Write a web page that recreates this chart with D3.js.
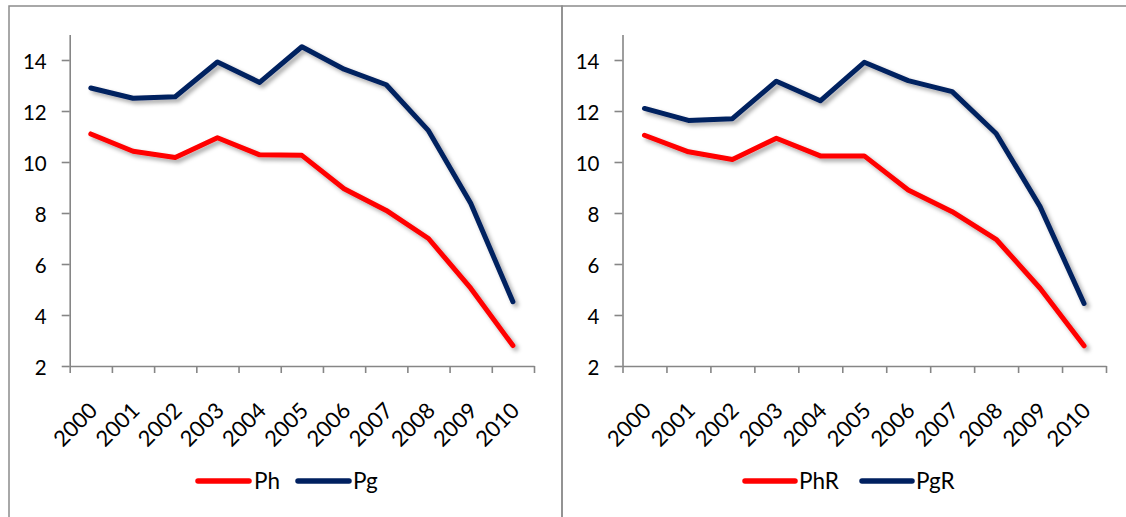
<!DOCTYPE html>
<html>
<head>
<meta charset="utf-8">
<script src="https://cdn.jsdelivr.net/npm/d3@7/dist/d3.min.js"></script>
<style>
  html, body { margin: 0; padding: 0; background: #fff; }
  svg { display: block; }
  text { font-family: Lato, "Open Sans", sans-serif; fill: #000; }
</style>
</head>
<body>
<svg id="chart" width="1126" height="517"></svg>
<script>
// ---- data ----
const years = ["2000","2001","2002","2003","2004","2005","2006","2007","2008","2009","2010"];
const phValues  = [11.1, 10.42, 10.18, 10.95, 10.28, 10.26, 8.95, 8.1, 7.0, 5.05, 2.8];
const pgValues  = [12.9, 12.5, 12.56, 13.92, 13.12, 14.52, 13.64, 13.03, 11.23, 8.38, 4.52];
const phRValues = [11.05, 10.4, 10.1, 10.93, 10.24, 10.24, 8.9, 8.05, 6.97, 5.05, 2.79];
const pgRValues = [12.1, 11.63, 11.7, 13.17, 12.4, 13.91, 13.19, 12.76, 11.12, 8.25, 4.45];
const yTicks = [2, 4, 6, 8, 10, 12, 14];
const yDomain = [2, 15];
const seriesNamesLeft = ["Ph", "Pg"];
const seriesNamesRight = ["PhR", "PgR"];
const colors = ["#FF0000", "#002060"];

// ---- layout ----
const svg = d3.select("#chart");
const defs = svg.append("defs");
const f = defs.append("filter").attr("id", "shadow")
  .attr("x", "-20%").attr("y", "-20%").attr("width", "140%").attr("height", "140%");
f.append("feDropShadow").attr("dx", 3).attr("dy", 3).attr("stdDeviation", 2)
  .attr("flood-color", "#000").attr("flood-opacity", 0.35);

// panel borders
svg.append("rect").attr("x", 9).attr("y", 6).attr("width", 553).attr("height", 540)
  .attr("fill", "none").attr("stroke", "#8c8c8c").attr("stroke-width", 1.5);
svg.append("rect").attr("x", 562).attr("y", 6).attr("width", 600).attr("height", 540)
  .attr("fill", "none").attr("stroke", "#8c8c8c").attr("stroke-width", 1.5);

const panels = [
  { x0: 69.7, x1: 534, series: [phValues, pgValues], names: seriesNamesLeft,
    legend: [{ l0: 198, l1: 249, t: 254 }, { l0: 298, l1: 349, t: 353 }] },
  { x0: 622.5, x1: 1106, series: [phRValues, pgRValues], names: seriesNamesRight,
    legend: [{ l0: 745, l1: 795, t: 799 }, { l0: 862, l1: 912, t: 916 }] }
];

const yBottom = 366, yTop = 366 - 13 * 25.5;
const axisColor = "#868686";

panels.forEach(p => {
  const g = svg.append("g");
  const x = d3.scaleBand().domain(years).range([p.x0, p.x1]).padding(0);
  const xTick = d3.scaleLinear().domain([0, years.length]).range([p.x0, p.x1]);
  const y = d3.scaleLinear().domain(yDomain).range([yBottom, yTop]);

  // y axis
  const ya = g.append("g").attr("transform", `translate(${p.x0},0)`)
    .call(d3.axisLeft(y).tickValues(yTicks).tickSize(8).tickSizeOuter(0).tickPadding(15).tickFormat(d3.format("d")));
  ya.select(".domain").attr("stroke", axisColor).attr("stroke-width", 1.6);
  ya.selectAll(".tick line").attr("stroke", axisColor).attr("stroke-width", 1.6);
  ya.selectAll(".tick text").attr("font-size", 20.5).attr("font-family", "Lato, sans-serif")
    .attr("fill", "#000").attr("dy", "0.42em");

  // x axis ticks at category boundaries
  const xa = g.append("g").attr("transform", `translate(0,${yBottom})`)
    .call(d3.axisBottom(xTick).tickValues(d3.range(0, years.length + 1)).tickSize(7).tickSizeOuter(0).tickFormat(""));
  xa.select(".domain").attr("stroke", axisColor).attr("stroke-width", 1.6);
  xa.selectAll(".tick line").attr("stroke", axisColor).attr("stroke-width", 1.6);

  // x labels
  const xl = g.append("g").attr("transform", `translate(0,${yBottom})`)
    .call(d3.axisBottom(x).tickSize(0).tickPadding(0));
  xl.select(".domain").remove();
  xl.selectAll(".tick text")
    .attr("font-size", 22).attr("font-family", "Lato, sans-serif").attr("fill", "#000")
    .attr("text-anchor", "end")
    .attr("dy", 0)
    .attr("transform", "translate(8,46) rotate(-45)");

  // lines
  const line = d3.line().x((d, i) => x(years[i]) + x.bandwidth() / 2).y(d => y(d));
  p.series.forEach((vals, si) => {
    g.append("path").datum(vals)
      .attr("d", line)
      .attr("fill", "none")
      .attr("stroke", colors[si])
      .attr("stroke-width", 5)
      .attr("stroke-linejoin", "round")
      .attr("stroke-linecap", "round")
      .attr("filter", "url(#shadow)");
  });

  // legend
  const ly = 481;
  p.legend.forEach((lg, si) => {
    g.append("line").attr("x1", lg.l0).attr("x2", lg.l1).attr("y1", ly).attr("y2", ly)
      .attr("stroke", colors[si]).attr("stroke-width", 5.5).attr("stroke-linecap", "round");
    g.append("text").attr("x", lg.t).attr("y", ly).attr("dy", "0.36em")
      .attr("font-size", 22.5).text(p.names[si]);
  });
});
</script>
</body>
</html>
